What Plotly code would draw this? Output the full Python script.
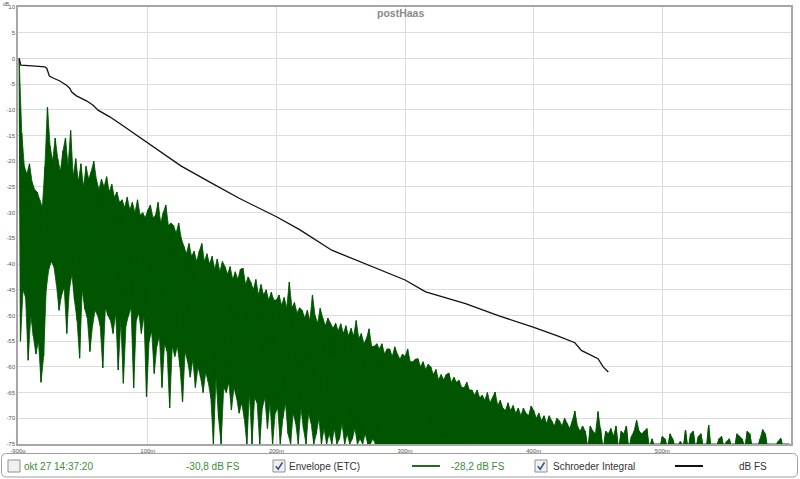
import plotly.graph_objects as go

# ---------------- data ----------------
# Envelope (ETC): per 2 ms slot, peak (top) and trough (bottom) level in dB FS
etc_time_ms = list(range(0, 600, 2))
etc_top = [
    0, -14.5, -21, -22.5, -20.5, -24, -25.5, -26, -27.5, -29,
    -21, -9.5, -17, -20, -15.5, -19.5, -22, -18, -15.5, -21,
    -14, -23, -19.5, -24, -20.5, -25, -21, -23.5, -22, -20,
    -23.5, -25.5, -23.5, -25, -23, -26, -24.5, -27, -26, -28,
    -27.5, -29, -27, -29.5, -28, -30, -27.5, -30.5, -30, -31,
    -29.5, -28.5, -31, -30.5, -28, -32, -30, -28.5, -32.5, -32,
    -32.5, -34, -32, -35, -36.5, -38, -36, -38.5, -37.5, -39.5,
    -37.5, -36, -39.5, -38, -40, -38.5, -41, -39, -41.5, -39.5,
    -40.5, -42, -40.5, -43, -41.5, -43, -41, -40.8, -44, -42.5,
    -43.5, -45, -43, -46, -44, -46, -45, -47, -45.5, -47,
    -47, -46, -48, -46.5, -48.5, -43.5, -48.5, -47.5, -49.5, -48.5,
    -49, -50.5, -49, -51, -46, -50, -51.5, -48.6, -50.5, -52,
    -50.5, -51.5, -52.5, -51.5, -53, -51.6, -53.5, -52, -54, -52.5,
    -54, -51, -54.5, -53.5, -55.5, -54.5, -52.6, -56, -56, -55.5,
    -56.5, -55.5, -57.5, -56.5, -56.5, -58, -56.1, -57.5, -58.5, -57.5,
    -58, -56.5, -59, -59, -58.5, -58.4, -60, -59, -60.5, -59.5,
    -60, -61.5, -60.5, -62.5, -61.5, -62.5, -61.5, -61.2, -63, -62,
    -63, -62.6, -64, -64, -63, -64.5, -64.5, -65.5, -64.5, -66,
    -65.5, -66.5, -65, -67, -66, -64.9, -67.5, -66.5, -68, -68.5,
    -67, -68.5, -67.5, -69, -68, -69.5, -68, -69, -69.5, -67.6,
    -68.5, -70, -69, -70.5, -69.5, -71, -69.5, -70.5, -71.5, -70,
    -70.5, -71.5, -70, -71, -72, -70.5, -68.6, -71.5, -72.5, -71.5,
    -72.5, -76, -71.5, -72.5, -73, -68.7, -72, -76, -72.5, -73,
    -72, -73.5, -71.5, -76, -72.5, -73, -71.5, -76, -73.5, -72.5,
    -70.4, -72.5, -73, -72.5, -72, -76, -74, -76, -76, -76,
    -73.5, -74, -76, -73, -74, -76, -76, -74.5, -76, -72.3,
    -76, -73, -72.5, -76, -73.5, -73, -76, -76, -71.3, -76,
    -76, -76, -74, -73.5, -76, -74.5, -74, -76, -76, -73,
    -73.5, -74, -76, -72.5, -73, -76, -76, -76, -74, -72.2,
    -73, -76, -76, -76, -76, -74.5, -73.9, -76, -76, -76,
]
etc_bottom = [
    -55, -45, -46.5, -58.7, -50, -54, -57.5, -55, -63, -58,
    -45, -41, -39.5, -40.5, -44, -49, -46, -44.5, -53.5, -45,
    -42, -47, -51, -58.3, -45, -48.7, -50.5, -57, -52, -49,
    -50, -52, -60.2, -48.5, -50, -51, -53.5, -49.5, -60.6, -51,
    -63.2, -52, -50, -48.5, -64.1, -51, -49.5, -53.5, -50, -65.8,
    -55, -53, -61.3, -56, -54, -64, -55.5, -57, -68, -56,
    -58, -56, -60, -66.8, -57, -59, -62, -58.5, -64, -60,
    -62, -65, -61, -63, -66, -75, -62, -70, -75, -64,
    -65, -63, -68.4, -64, -66, -69, -67, -70, -75, -65,
    -75, -66, -67, -75, -68, -66, -72, -67, -75, -69,
    -68, -75, -70, -67, -73, -75, -69, -71, -75, -68,
    -72, -75, -69, -71, -75, -73, -70, -75, -72, -75,
    -73, -75, -72, -75, -74, -71, -75, -73, -75, -74,
    -72, -75, -74, -75, -73, -75, -75, -74, -75, -75,
    -75, -75, -75, -75, -75, -75, -75, -75, -75, -75,
    -75, -75, -75, -75, -75, -75, -75, -75, -75, -75,
    -75, -75, -75, -75, -75, -75, -75, -75, -75, -75,
    -75, -75, -75, -75, -75, -75, -75, -75, -75, -75,
    -75, -75, -75, -75, -75, -75, -75, -75, -75, -75,
    -75, -75, -75, -75, -75, -75, -75, -75, -75, -75,
    -75, -75, -75, -75, -75, -75, -75, -75, -75, -75,
    -75, -75, -75, -75, -75, -75, -75, -75, -75, -75,
    -75, -75, -75, -75, -75, -75, -75, -75, -75, -75,
    -75, -75, -75, -75, -75, -75, -75, -75, -75, -75,
    -75, -75, -75, -75, -75, -75, -75, -75, -75, -75,
    -75, -75, -75, -75, -75, -75, -75, -75, -75, -75,
    -75, -75, -75, -75, -75, -75, -75, -75, -75, -75,
    -75, -75, -75, -75, -75, -75, -75, -75, -75, -75,
    -75, -75, -75, -75, -75, -75, -75, -75, -75, -75,
    -75, -75, -75, -75, -75, -75, -75, -75, -75, -75,
]

# Schroeder integral
schroeder_time_ms = [0, 1.3, 10, 20, 21.5, 22.5, 23.5, 26, 31.6, 36.8, 39.4, 40.7,
                     44.5, 52.3, 57.5, 61.3, 70.4, 78.2, 100, 126, 150, 171, 200,
                     218, 243, 275, 300, 316, 347, 373, 399, 419, 432, 437, 450,
                     454, 458]
schroeder_db = [0, -1.3, -1.45, -1.63, -1.95, -2.9, -3.44, -3.77, -4.4, -5.2, -5.84,
                -6.5, -7.28, -8.25, -9.1, -10.06, -11.36, -12.65, -16.5, -20.95,
                -24.3, -27.2, -30.8, -33.3, -37.3, -40.5, -43.1, -45.4, -47.7,
                -50.1, -52.2, -54.0, -55.3, -56.8, -58.4, -60.0, -61.0]

x_tick_vals = [-0.9, 100, 200, 300, 400, 500, 600]
x_tick_text = ["-900u", "100m", "200m", "300m", "400m", "500m", "600m s"]
y_tick_vals = [10, 5, 0, -5, -10, -15, -20, -25, -30, -35, -40, -45, -50, -55,
               -60, -65, -70, -75]
y_tick_text = ["10", "5", "0", "-5", "-10", "-15", "-20", "-25", "-30", "-35",
               "-40", "-45", "-50", "-55", "-60", "-65", "-70", "-75"]

title_text = "postHaas"
legend_texts = ["okt 27 14:37:20", "-30,8 dB FS", "Envelope (ETC)",
                "-28,2 dB FS", "Schroeder Integral", "dB FS"]

# ---------------- figure ----------------
W, H = 800, 479
L, R, T, B = 18, 791, 7, 444


def PX(x):
    return (x - L) / (R - L)


def PY(y):
    return (B - y) / (B - T)


GREEN = "#005500"

# solid body: peaks forward, troughs backward
poly_x = list(etc_time_ms) + [t + 1 for t in etc_time_ms][::-1]
poly_y = list(etc_top) + list(etc_bottom)[::-1]
# thin peak/trough strokes
xs, ys = [], []
for t, top, bot in zip(etc_time_ms, etc_top, etc_bottom):
    xs += [t, t + 1]
    ys += [top, bot]

fig = go.Figure()
fig.add_trace(go.Scatter(x=poly_x, y=poly_y, mode="lines", fill="toself",
                         fillcolor=GREEN, line=dict(color=GREEN, width=0.8),
                         hoverinfo="skip", showlegend=False))
fig.add_trace(go.Scatter(x=xs, y=ys, mode="lines",
                         line=dict(color=GREEN, width=1.2),
                         hoverinfo="skip", showlegend=False))
fig.add_trace(go.Scatter(x=schroeder_time_ms, y=schroeder_db, mode="lines",
                         line=dict(color="#111111", width=1.3),
                         hoverinfo="skip", showlegend=False))

FONT = "Liberation Sans, Arial, sans-serif"

fig.update_layout(
    width=W, height=H,
    margin=dict(l=L, r=W - R, t=T, b=H - B, pad=0, autoexpand=False),
    paper_bgcolor="white", plot_bgcolor="white",
    showlegend=False,
    font=dict(family=FONT),
    xaxis=dict(range=[-0.91, 600.01], tickvals=x_tick_vals, ticktext=x_tick_text,
               automargin=False,
               showgrid=True, gridcolor="#dcdcdc", gridwidth=1, zeroline=False,
               showline=True, linecolor="#a6a6a6", linewidth=1.5, mirror=True,
               ticks="", tickfont=dict(size=6, color="#555555", family=FONT)),
    yaxis=dict(range=[-75, 10], tickvals=y_tick_vals, ticktext=y_tick_text,
               automargin=False,
               showgrid=True, gridcolor="#dcdcdc", gridwidth=1, zeroline=False,
               showline=True, linecolor="#a6a6a6", linewidth=1.5, mirror=True,
               ticks="", tickfont=dict(size=6, color="#555555", family=FONT)),
)

shapes = []
annotations = []

# title
annotations.append(dict(text="<b>" + title_text + "</b>", x=PX(400), y=PY(13),
                        xref="paper", yref="paper", showarrow=False,
                        xanchor="center", yanchor="middle",
                        font=dict(size=10.5, color="#8a8a8a", family=FONT)))
# y unit label
annotations.append(dict(text="dB", x=PX(6), y=PY(0), xref="paper", yref="paper",
                        showarrow=False, xanchor="center", yanchor="top",
                        borderpad=0,
                        font=dict(size=5, color="#555555", family=FONT)))

# legend box (rounded)
x0, y0, x1, y1, r = 1.5, 453.5, 797.5, 477, 5


def P(x, y):
    return f"{PX(x):.5f},{PY(y):.5f}"


path = (f"M {P(x0 + r, y0)} L {P(x1 - r, y0)} Q {P(x1, y0)} {P(x1, y0 + r)} "
        f"L {P(x1, y1 - r)} Q {P(x1, y1)} {P(x1 - r, y1)} "
        f"L {P(x0 + r, y1)} Q {P(x0, y1)} {P(x0, y1 - r)} "
        f"L {P(x0, y0 + r)} Q {P(x0, y0)} {P(x0 + r, y0)} Z")
shapes.append(dict(type="path", path=path, xref="paper", yref="paper",
                   line=dict(color="#a0a0a0", width=1), fillcolor="white",
                   layer="below"))

cy = 466
# checkboxes
for bx, checked in [(8, False), (273, True), (535, True)]:
    shapes.append(dict(type="rect", xref="paper", yref="paper",
                       x0=PX(bx), x1=PX(bx + 12), y0=PY(cy - 6), y1=PY(cy + 6),
                       line=dict(color="#8e8f8f", width=1), fillcolor="#f1f1f1"))
    if checked:
        cpath = f"M {P(bx + 2.8, cy + 0.3)} L {P(bx + 5.2, cy + 3.2)} L {P(bx + 9.5, cy - 3.6)}"
        shapes.append(dict(type="path", path=cpath, xref="paper", yref="paper",
                           line=dict(color="#3a4d8f", width=1.6)))

# legend line samples
shapes.append(dict(type="line", xref="paper", yref="paper", x0=PX(412), x1=PX(440),
                   y0=PY(cy), y1=PY(cy), line=dict(color="#1f6f1f", width=2)))
shapes.append(dict(type="line", xref="paper", yref="paper", x0=PX(675), x1=PX(703),
                   y0=PY(cy), y1=PY(cy), line=dict(color="#111111", width=2)))

legend_pos = [(22, "#3c8c3c"), (184, "#3c8c3c"), (287, "#333333"),
              (449, "#3c8c3c"), (550.5, "#333333"), (737, "#333333")]
for (lx, col), txt in zip(legend_pos, legend_texts):
    annotations.append(dict(text=txt, x=PX(lx), y=PY(cy), xref="paper", yref="paper",
                            showarrow=False, xanchor="left", yanchor="middle",
                            font=dict(size=10, color=col, family=FONT)))

fig.update_layout(shapes=shapes, annotations=annotations)
fig.write_html("out.html", config={"displayModeBar": False},
               post_script="document.body.style.margin='0px';document.body.style.overflow='hidden';")
